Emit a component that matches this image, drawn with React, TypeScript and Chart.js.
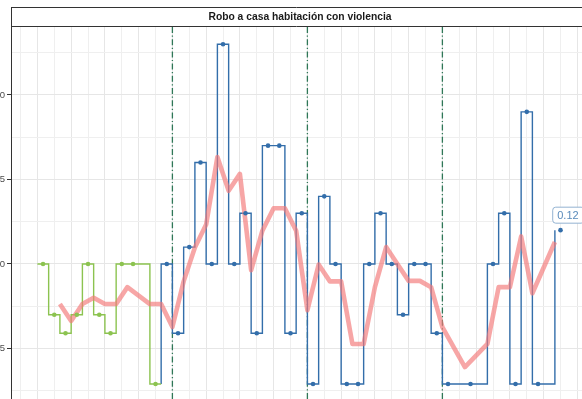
import React, { useEffect, useRef } from "react";
import { Chart, registerables } from "chart.js";

Chart.register(...registerables);

const titleText = "Robo a casa habitación con violencia";

// Monthly values, previous administration (green)
const greenMonths = ["2018-01", "2018-02", "2018-03", "2018-04", "2018-05", "2018-06", "2018-07", "2018-08", "2018-09", "2018-11"];
const greenValues = [0.10, 0.07, 0.059, 0.07, 0.10, 0.07, 0.059, 0.10, 0.10, 0.029];

// Monthly values, current administration (blue)
const blueMonths = [
  "2018-12", "2019-01", "2019-02", "2019-03", "2019-04", "2019-05", "2019-06", "2019-07", "2019-08", "2019-09",
  "2019-10", "2019-11", "2019-12", "2020-01", "2020-02", "2020-03", "2020-04", "2020-05", "2020-06", "2020-07",
  "2020-08", "2020-09", "2020-10", "2020-11", "2020-12", "2021-01", "2021-03", "2021-05", "2021-06", "2021-07",
  "2021-08", "2021-09", "2021-11",
];
const blueValues = [
  0.10, 0.059, 0.11, 0.16, 0.10, 0.23, 0.10, 0.13, 0.059, 0.17,
  0.17, 0.059, 0.13, 0.029, 0.14, 0.10, 0.029, 0.029, 0.10, 0.13,
  0.10, 0.07, 0.10, 0.10, 0.059, 0.029, 0.029, 0.10, 0.13, 0.029,
  0.19, 0.029, 0.12,
];

// Rolling (3-row) average line, placed at the start of each month
const rollingMonths = [
  "2018-03", "2018-04", "2018-05", "2018-06", "2018-07", "2018-08", "2018-09", "2018-11", "2018-12",
  "2019-01", "2019-02", "2019-03", "2019-04", "2019-05", "2019-06", "2019-07", "2019-08", "2019-09",
  "2019-10", "2019-11", "2019-12", "2020-01", "2020-02", "2020-03", "2020-04", "2020-05", "2020-06",
  "2020-07", "2020-08", "2020-09", "2020-10", "2020-11", "2020-12", "2021-01", "2021-03", "2021-05",
  "2021-06", "2021-07", "2021-08", "2021-09", "2021-11",
];
const rollingValues = [
  0.0763, 0.0663, 0.0763, 0.08, 0.0763, 0.0763, 0.0863, 0.0763, 0.0763,
  0.0627, 0.0897, 0.1097, 0.1233, 0.1633, 0.1433, 0.1533, 0.0963, 0.1197,
  0.133, 0.133, 0.1197, 0.0727, 0.0997, 0.0897, 0.0897, 0.0527, 0.0527,
  0.0863, 0.11, 0.10, 0.09, 0.09, 0.0863, 0.0627, 0.039, 0.0527,
  0.0863, 0.0863, 0.1163, 0.0827, 0.113,
];

const yearLineMonths = ["2019-01", "2020-01", "2021-01"];
const yTickValues = [0.05, 0.10, 0.15, 0.20];
const yTickLabels = ["0.05", "0.10", "0.15", "0.20"];
const lastValueLabel = "0.12";

// Layout / style constants
const W = 582;
const H = 399;
const X_MIN = -2.347;
const X_MAX = 48.41;
const Y_MIN = 0.02012;
const Y_MAX = 0.2402;
const GREEN = "#8cc350";
const BLUE = "#336eaa";
const ROLL = "rgba(243,120,120,0.66)";
const YEAR_LINE = "#2f7757";
const FONT = "'Liberation Sans', Arial, sans-serif";

const monthIndex = (m: string) => {
  const [y, mo] = m.split("-").map(Number);
  return (y - 2018) * 12 + (mo - 1);
};

export default function App() {
  const ref = useRef<HTMLCanvasElement>(null);

  useEffect(() => {
    const canvas = ref.current;
    if (!canvas) return;

    const greenPts = greenMonths.map((m, k) => ({ x: monthIndex(m) + 0.5, y: greenValues[k] }));
    const bluePts = blueMonths.map((m, k) => ({ x: monthIndex(m) + 0.5, y: blueValues[k] }));

    const lastGreen = greenValues[greenValues.length - 1];
    const greenStep = greenMonths.map((m, k) => ({ x: monthIndex(m), y: greenValues[k] }));
    greenStep.push({ x: monthIndex(blueMonths[0]), y: lastGreen });
    const blueStep = [{ x: monthIndex(blueMonths[0]), y: lastGreen }].concat(
      blueMonths.map((m, k) => ({ x: monthIndex(m), y: blueValues[k] }))
    );
    const rolling = rollingMonths.map((m, k) => ({ x: monthIndex(m), y: rollingValues[k] }));

    const xGrid: number[] = [];
    for (let k = -1; k * 1.5 <= X_MAX; k++) if (k * 1.5 >= X_MIN) xGrid.push(k * 1.5);
    const yGrid: number[] = [];
    for (let k = 1; k <= 9; k++) yGrid.push(k * 0.025);

    const stripPlugin = {
      id: "strip",
      afterDraw(chart: any) {
        const ctx = chart.ctx;
        const area = chart.chartArea;
        ctx.save();
        ctx.strokeStyle = "#333333";
        ctx.lineWidth = 1;
        ctx.beginPath();
        ctx.moveTo(area.left, 7.5);
        ctx.lineTo(W, 7.5);
        ctx.moveTo(area.left, area.top - 0.5);
        ctx.lineTo(W, area.top - 0.5);
        ctx.moveTo(area.left + 0.5, 7.5);
        ctx.lineTo(area.left + 0.5, area.top);
        ctx.stroke();
        ctx.fillStyle = "#1a1a1a";
        ctx.font = `bold 10.3px ${FONT}`;
        ctx.textAlign = "center";
        ctx.textBaseline = "middle";
        ctx.fillText(titleText, 300, 17.5);
        ctx.restore();
      },
    };

    const yearLinesPlugin = {
      id: "yearLines",
      beforeDatasetsDraw(chart: any) {
        const ctx = chart.ctx;
        const area = chart.chartArea;
        const xs = chart.scales.x;
        ctx.save();
        ctx.strokeStyle = YEAR_LINE;
        ctx.lineWidth = 1.3;
        ctx.setLineDash([6, 2.5, 1.2, 2.5]);
        yearLineMonths.forEach((m) => {
          const x = xs.getPixelForValue(monthIndex(m));
          ctx.beginPath();
          ctx.moveTo(x, area.top);
          ctx.lineTo(x, area.bottom);
          ctx.stroke();
        });
        ctx.restore();
      },
    };

    const labelPlugin = {
      id: "lastLabel",
      afterDatasetsDraw(chart: any) {
        const meta = chart.getDatasetMeta(1);
        const el = meta.data[meta.data.length - 1];
        if (!el) return;
        const ctx = chart.ctx;
        ctx.save();
        ctx.font = `11px ${FONT}`;
        const tw = ctx.measureText(lastValueLabel).width;
        const left = el.x - 8.3;
        const top = el.y - 23.5;
        const w = tw + 10;
        const h = 16;
        ctx.beginPath();
        ctx.roundRect(left + 0.5, top + 0.5, w, h, 3);
        ctx.fillStyle = "#ffffff";
        ctx.fill();
        ctx.strokeStyle = "#93b3d2";
        ctx.lineWidth = 1;
        ctx.stroke();
        ctx.fillStyle = "#5a8bbb";
        ctx.textAlign = "left";
        ctx.textBaseline = "middle";
        ctx.fillText(lastValueLabel, left + 5, top + h / 2 + 1);
        ctx.restore();
      },
    };

    const chart = new Chart(canvas, {
      type: "line",
      data: {
        datasets: [
          {
            label: "green points",
            data: greenPts,
            showLine: false,
            pointRadius: 2.3,
            pointBorderWidth: 0,
            pointBackgroundColor: GREEN,
            borderColor: GREEN,
            order: 0,
          },
          {
            label: "blue points",
            data: bluePts,
            showLine: false,
            pointRadius: 2.3,
            pointBorderWidth: 0,
            pointBackgroundColor: BLUE,
            borderColor: BLUE,
            order: 0,
          },
          {
            label: "rolling",
            data: rolling,
            borderColor: ROLL,
            borderWidth: 4.6,
            pointRadius: 0,
            borderJoinStyle: "round",
            tension: 0,
            order: 1,
          },
          {
            label: "green step",
            data: greenStep,
            stepped: "before",
            borderColor: GREEN,
            borderWidth: 1.4,
            pointRadius: 0,
            order: 2,
          },
          {
            label: "blue step",
            data: blueStep,
            stepped: "before",
            borderColor: BLUE,
            borderWidth: 1.4,
            pointRadius: 0,
            order: 2,
          },
        ] as any,
      },
      options: {
        animation: false,
        responsive: false,
        events: [],
        layout: { autoPadding: false, padding: { top: 27, left: 0, right: 0, bottom: 0 } },
        plugins: {
          legend: { display: false },
          tooltip: { enabled: false },
          title: { display: false },
        },
        scales: {
          x: {
            type: "linear",
            min: X_MIN,
            max: X_MAX,
            afterBuildTicks: (s: any) => {
              s.ticks = xGrid.map((v) => ({ value: v }));
            },
            afterFit: (s: any) => {
              s.height = 0;
              s.paddingLeft = 0;
              s.paddingRight = 0;
            },
            ticks: { display: false },
            border: { display: false },
            grid: {
              drawTicks: false,
              lineWidth: 1,
              color: (c: any) => (c.tick && Math.abs(c.tick.value % 3) < 1e-6 ? "#e6e6e6" : "#efefef"),
            },
          },
          y: {
            type: "linear",
            min: Y_MIN,
            max: Y_MAX,
            afterBuildTicks: (s: any) => {
              s.ticks = yGrid.map((v) => ({ value: v }));
            },
            afterFit: (s: any) => {
              s.width = 11;
              s.paddingTop = 0;
              s.paddingBottom = 0;
            },
            ticks: {
              padding: 2,
              color: "#4d4d4d",
              font: { family: FONT, size: 9.5 },
              callback: (v: any) => {
                const i = yTickValues.findIndex((t) => Math.abs(t - Number(v)) < 1e-6);
                return i >= 0 ? yTickLabels[i] : "";
              },
            },
            border: { display: true, color: "#333333", width: 1 },
            grid: {
              lineWidth: 1,
              tickLength: 4,
              color: (c: any) => (c.index % 2 === 1 ? "#e6e6e6" : "#efefef"),
              tickColor: (c: any) => (c.index % 2 === 1 ? "#333333" : "rgba(0,0,0,0)"),
            },
          },
        },
      } as any,
      plugins: [stripPlugin, yearLinesPlugin, labelPlugin],
    });

    return () => chart.destroy();
  }, []);

  return (
    <div style={{ position: "fixed", left: 0, top: 0, width: W, height: H, overflow: "hidden", background: "#ffffff" }}>
      <canvas ref={ref} width={W} height={H} style={{ display: "block", width: W, height: H }} />
    </div>
  );
}
